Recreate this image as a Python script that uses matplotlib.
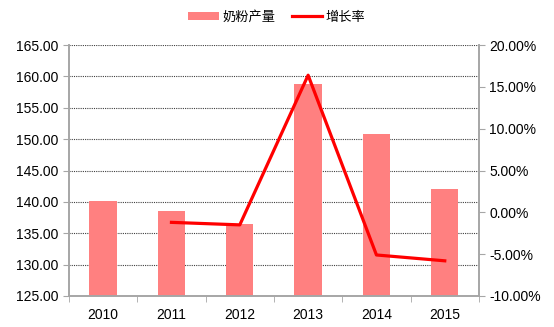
import matplotlib.pyplot as plt
import numpy as np
from matplotlib.ticker import FuncFormatter, MultipleLocator, FixedLocator

plt.rcParams['font.family'] = ['Liberation Sans', 'Noto Sans CJK SC', 'DejaVu Sans']

# yearly milk powder output and its growth rate
years = ['2010', '2011', '2012', '2013', '2014', '2015']
output = [140.2, 138.5, 136.5, 158.8, 150.8, 142.0]
growth = [None, -1.2, -1.5, 16.4, -5.1, -5.8]

bar_color = '#FF8080'
line_color = '#FF0000'
axis_gray = '#A6A6A6'

fig = plt.figure(figsize=(5.54, 3.27), dpi=100)
ax = fig.add_axes([0.1245, 0.095, 0.740, 0.767])
x = np.arange(len(years))

bars = ax.bar(x, output, width=0.4, color=bar_color, label='奶粉产量', zorder=2)
ax.set_ylim(125, 165)
ax.set_xlim(-0.5, len(years) - 0.5)
ax.yaxis.set_major_locator(MultipleLocator(5))
ax.yaxis.set_major_formatter(FuncFormatter(lambda v, p: f'{v:.2f}'))
ax.grid(axis='y', color='#404040', linestyle=(0, (1, 1)), linewidth=0.8, zorder=0)

ax.set_xticks(x)
ax.set_xticklabels(years)
ax.xaxis.set_minor_locator(FixedLocator(np.arange(-0.5, len(years), 1.0)))
ax.tick_params(axis='x', which='major', length=0, pad=9, labelsize=10)
ax.tick_params(axis='x', which='minor', length=4, color=axis_gray)
ax.tick_params(axis='y', length=4, color=axis_gray, labelsize=10)

for side in ['left', 'right', 'bottom']:
    ax.spines[side].set_color(axis_gray)
    ax.spines[side].set_linewidth(1.2)
ax.spines['top'].set_visible(False)

ax2 = ax.twinx()
gx = [i for i, g in enumerate(growth) if g is not None]
gy = [g for g in growth if g is not None]
line, = ax2.plot(gx, gy, color=line_color, linewidth=2.3, label='增长率', zorder=3)
ax2.set_ylim(-10, 20)
ax2.yaxis.set_major_locator(MultipleLocator(5))
ax2.yaxis.set_major_formatter(FuncFormatter(lambda v, p: f'{v:.2f}%'))
ax2.tick_params(axis='y', length=4, color=axis_gray, labelsize=10)
for side in ['left', 'right', 'bottom']:
    ax2.spines[side].set_color(axis_gray)
    ax2.spines[side].set_linewidth(1.2)
ax2.spines['top'].set_visible(False)

fig.legend([bars, line], ['奶粉产量', '增长率'], loc='center', bbox_to_anchor=(0.5, 0.947),
           ncol=2, frameon=False, fontsize=9.5, handlelength=2.3, handleheight=0.6,
           columnspacing=1.2, handletextpad=0.3)

fig.savefig('out.png', dpi=100)
